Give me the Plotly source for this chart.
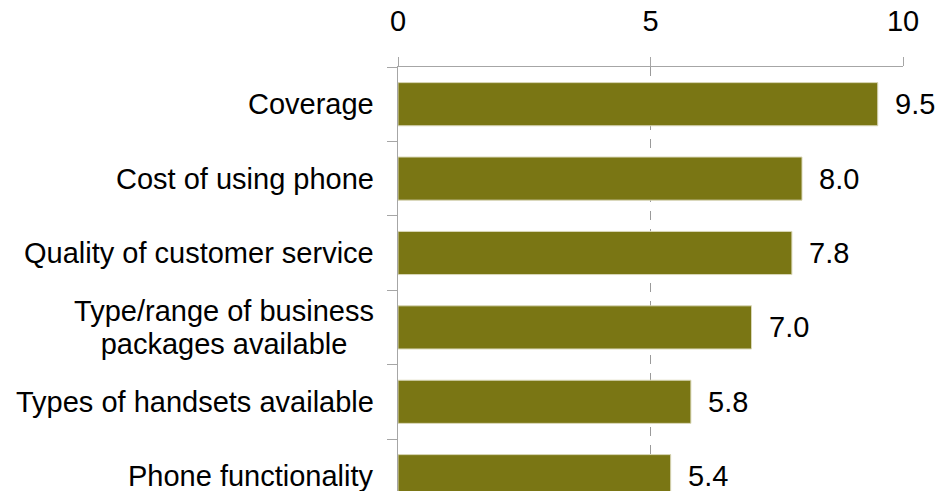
import plotly.graph_objects as go

# Mean rating (0-10) per supplier attribute
categories = [
    "Coverage",
    "Cost of using phone",
    "Quality of customer service",
    "Type/range of business<br>packages available",
    "Types of handsets available",
    "Phone functionality",
]
scores = [9.5, 8.0, 7.8, 7.0, 5.8, 5.4]
x_ticks = [0, 5, 10]

BAR = "#7A7614"
AXIS = "#a6a6a6"
FONT = "Liberation Sans, Arial, sans-serif"
FSIZE = 29
LINE_PITCH = 33      # px between wrapped label lines
WRAP_BOX = 300       # px width of the box that wrapped lines are centred in

idx = list(range(len(categories)))

fig = go.Figure(
    go.Bar(
        y=idx,
        x=scores,
        orientation="h",
        marker=dict(color=BAR, line=dict(color="#d9d7b8", width=1)),
        width=0.58,
        hoverinfo="skip",
    )
)

annotations = []
# value labels just past the bar ends
for i, v in zip(idx, scores):
    annotations.append(dict(
        x=v, y=i, xref="x", yref="y", text=f"{v:.1f}",
        showarrow=False, xanchor="left", yanchor="middle", xshift=15,
        font=dict(family=FONT, size=FSIZE, color="black"),
    ))

# category labels: right-aligned against the axis; wrapped labels put each
# line in its own fixed-width box so the lines sit centred under each other
for i, c in zip(idx, categories):
    lines = c.split("<br>")
    n = len(lines)
    for k, ln in enumerate(lines):
        ann = dict(
            x=0, y=i, xref="paper", yref="y", text=ln,
            showarrow=False, xanchor="right", yanchor="middle",
            xshift=-22, yshift=-(k - (n - 1) / 2) * LINE_PITCH,
            font=dict(family=FONT, size=FSIZE, color="black"),
        )
        if n > 1:
            ann.update(width=WRAP_BOX, align="center")
        annotations.append(ann)

fig.update_layout(
    width=937, height=491,
    margin=dict(l=398, r=34, t=67, b=0),
    paper_bgcolor="white", plot_bgcolor="white",
    showlegend=False,
    annotations=annotations,
    xaxis=dict(
        side="top", range=[0, 10], tickvals=x_ticks,
        ticktext=[str(t) for t in x_ticks],
        showline=True, linecolor=AXIS, linewidth=1,
        ticks="outside", ticklen=9, tickcolor=AXIS, tickwidth=1,
        showgrid=True, gridcolor="#9a9a9a", griddash="dash", gridwidth=1,
        zeroline=False,
        tickfont=dict(family=FONT, size=FSIZE, color="black"),
        ticklabelstandoff=14,
        fixedrange=True,
    ),
    yaxis=dict(
        type="linear", range=[5.199, -0.5],
        tickvals=[k - 0.5 for k in range(len(categories) + 1)],
        showticklabels=False,
        showline=True, linecolor=AXIS, linewidth=1,
        ticks="outside", ticklen=10, tickcolor=AXIS, tickwidth=1,
        showgrid=False, zeroline=False,
        fixedrange=True,
    ),
)

fig.write_html("out.html")
